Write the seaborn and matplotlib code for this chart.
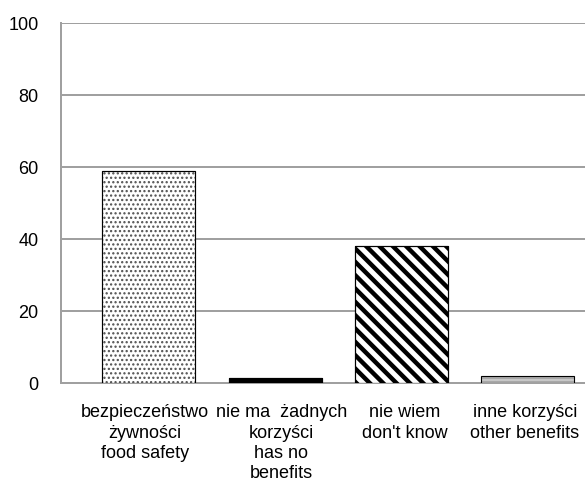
import matplotlib
matplotlib.use("Agg")
import matplotlib.pyplot as plt
import matplotlib.transforms as mtransforms
import seaborn as sns

# dane
categories = [
    "bezpieczeństwo\nżywności\nfood safety",
    "nie ma  żadnych\nkorzyści\nhas no\nbenefits",
    "nie wiem\ndon't know",
    "inne korzyści\nother benefits",
]
values = [59, 1.5, 38, 2]
y_ticks = [0, 20, 40, 60, 80, 100]

# wygląd słupków: wypełnienie, kreskowanie, kolor kreskowania, grubość
fills = ["white", "black", "white", "#a8a8a8"]
hatches = ["...", "", "\\\\", "-"]
hatch_colors = ["#505050", "black", "black", "#e0e0e0"]
hatch_widths = [1.3, 1.0, 4.0, 1.0]
# przesunięcie podpisów osi x (piksele), żeby się nie nakładały
label_shift = [-4, 6, 3, -3]


def main():
    sns.set_style("white")
    plt.rcParams["font.family"] = ["Liberation Sans", "DejaVu Sans"]
    plt.rcParams["hatch.linewidth"] = 4.0

    dpi = 80
    fig = plt.figure(figsize=(585 / dpi, 490 / dpi), dpi=dpi)
    ax = fig.add_axes([0.104, 0.218, 0.896, 0.735])

    # słupki z wypełnieniem
    sns.barplot(x=categories, y=values, ax=ax, width=0.736,
                color="white", edgecolor="black", linewidth=1.0,
                saturation=1, zorder=3)
    for patch, fc, h, hc, hw in zip(ax.patches, fills, hatches,
                                    hatch_colors, hatch_widths):
        patch.set_facecolor(fc)
        patch.set_hatch(h)
        patch.set_edgecolor(hc)
        if hasattr(patch, "set_hatch_linewidth"):
            patch.set_hatch_linewidth(hw)

    # czarne obramowanie na wierzchu
    sns.barplot(x=categories, y=values, ax=ax, width=0.736, fill=False,
                color="black", edgecolor="black", linewidth=1.0, zorder=4)

    ax.set_ylim(0, 100)
    ax.set_xlim(-0.697, 3.452)
    ax.set_yticks(y_ticks)
    ax.grid(axis="y", color="#a0a0a0", linewidth=1.8, zorder=0)
    ax.set_axisbelow(True)

    for side in ["top", "right"]:
        ax.spines[side].set_visible(False)
    for side in ["left", "bottom"]:
        ax.spines[side].set_color("#a0a0a0")
        ax.spines[side].set_linewidth(1.8)

    ax.tick_params(axis="y", length=0, pad=20, labelsize=16.2,
                   labelcolor="black")
    ax.tick_params(axis="x", length=0, pad=19, labelsize=16.2,
                   labelcolor="black")
    for lbl, dx in zip(ax.get_xticklabels(), label_shift):
        lbl.set_linespacing(1.25)
        lbl.set_verticalalignment("top")
        offset = mtransforms.ScaledTranslation(dx / dpi, 0, fig.dpi_scale_trans)
        lbl.set_transform(lbl.get_transform() + offset)

    fig.savefig("out.png", dpi=dpi, facecolor="white")


if __name__ == "__main__":
    main()
